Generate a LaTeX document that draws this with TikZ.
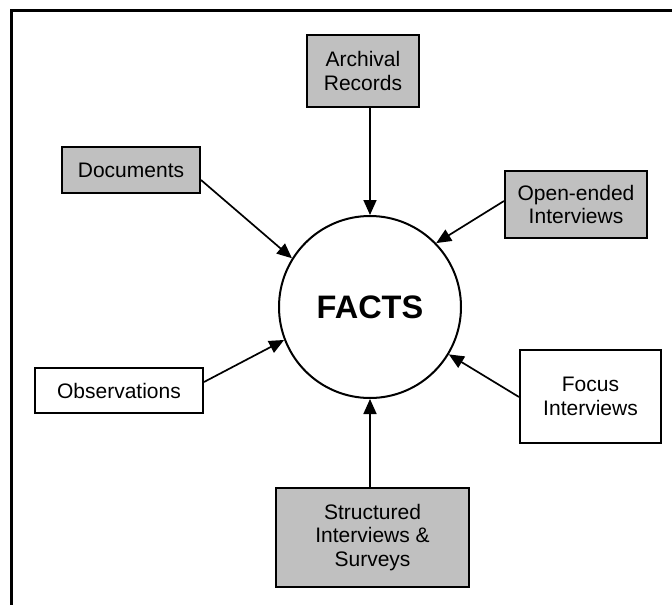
\documentclass[tikz,border=0pt]{standalone}
\usepackage{fontspec}
\setmainfont{Liberation Sans}
\usetikzlibrary{arrows.meta}
\definecolor{boxgray}{HTML}{C0C0C0}
\begin{document}
\begin{tikzpicture}[x=1pt,y=-1pt,
  src/.style={draw=black,line width=2pt,align=center,inner sep=0pt,
    font=\fontsize{21}{23.5}\selectfont},
  shaded/.style={src,fill=boxgray},
  plain/.style={src,fill=white},
  feed/.style={line width=1.7pt,-{Triangle[length=15pt,width=13pt]}}]
\useasboundingbox (0,0) rectangle (672,605);
% open frame: top and left rules
\draw[line width=3pt] (672,10) -- (11,10) -- (11,605);
% central circle
\node[circle,draw,line width=2pt,minimum size=182pt,inner sep=0pt,
  font=\fontsize{32.5}{36}\selectfont\bfseries] (facts) at (370,307) {FACTS};
% source boxes
\node[shaded,minimum width=112pt,minimum height=72pt] (arch) at (363,71) {Archival\\Records};
\node[shaded,minimum width=142pt,minimum height=67pt] (open) at (576,204.5) {Open-ended\\Interviews};
\node[shaded,minimum width=138pt,minimum height=46pt] (docs) at (131,170) {Documents};
\node[plain,minimum width=168pt,minimum height=45pt] (obs) at (119,390.5) {Observations};
\node[plain,minimum width=141pt,minimum height=93pt] (focus) at (590.5,396.5) {Focus\\Interviews};
\node[shaded,minimum width=193pt,minimum height=99pt] (struct) at (372.5,537.5) {Structured\\Interviews \&\\Surveys};
% connectors into the circle
\draw[feed] (arch.south -| facts) -- (facts.north);
\draw[feed] (open.west |- 0,201) -- (facts.44);
\draw[feed] (docs.east |- 0,180) -- (facts.148);
\draw[feed] (obs.east |- 0,382) -- (facts.201);
\draw[feed] (focus.west |- 0,397) -- (facts.-31);
\draw[feed] (struct.north -| facts) -- (facts.south);
\end{tikzpicture}
\end{document}
